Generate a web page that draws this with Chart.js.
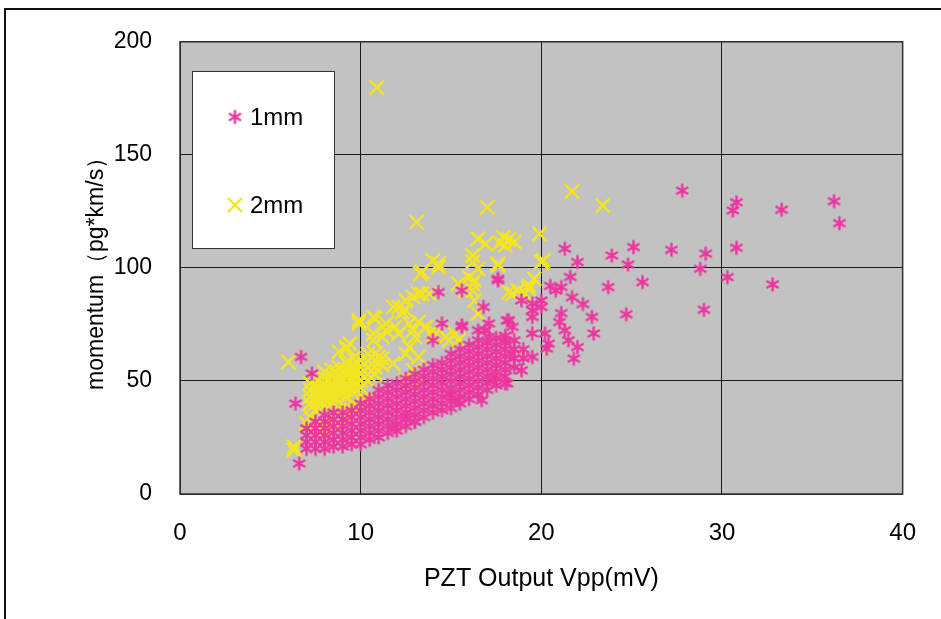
<!DOCTYPE html>
<html>
<head>
<meta charset="utf-8">
<script src="https://cdn.jsdelivr.net/npm/chart.js@4"></script>
<style>
  html, body { margin: 0; padding: 0; background: #fff; }
  canvas { display: block; }
</style>
</head>
<body>
<canvas id="plot" width="941" height="619"></canvas>
<script>
// axis ticks
const xTicks = [0, 10, 20, 30, 40];
const yTicks = [0, 50, 100, 150, 200];

// 1mm series (pink asterisks), [Vpp mV, momentum]
const mm1Sparse = [
  [27.8,134.2],[30.8,129],[30.6,125.4],[33.3,125.7],[36.2,129.5],[36.5,119.8],
  [21.3,108.5],[23.9,105.5],[25.1,109.2],[27.2,108],[29.1,106.3],[30.8,108.9],
  [24.8,101.5],[28.8,99.6],[30.3,95.9],[32.8,92.7],[22.0,102.6],[23.7,91.5],[25.6,93.7],
  [24.7,79.5],[29.0,81.5],[22.8,78.3],[22.9,71],[17.6,95.2],[21.1,91.5],[21.7,87],[21.1,80],
  [20.2,71],[21.3,72.4],[21.5,68],[20.3,64.3],[22.0,65],[19.5,84.2],[19.5,71],[18.2,76.8],
  [16.9,72.4],[18.0,68],[16.8,82.7],[18.3,62],[18.9,85.6],[21.8,59.9],[20.4,66.5],
  [14.3,89.3],[15.6,90],[17.6,94.5],[19.5,81.2],[18.4,73.9],[18.9,54.7],[18.0,48.9],[16.7,41.5],
  [15.4,41.5],[13.0,31.9],[11.9,29.7],[6.7,60.6],[6.6,13.5],[6.4,40],[7.3,53.3],[20.0,85.6],
  [20.8,90],[20.0,82.7],[19.5,78.3],[18.1,76.8],[17.1,75.4],[15.6,74.6],[14.5,75.4],[14.0,68],
  [19.5,60.6],[18.1,48.9],[17.4,51.8],[14.9,44.4],[12.5,34.1],[16.5,72.4],[17.1,69.5],[15.6,73.9],
  [21.6,96],[20.5,92],[22.3,84],[21.0,76]
];
const mm1Cloud = [
  [7.0,20],[7.0,23],[7.0,26],[7.0,29],
  [7.5,20],[7.5,23],[7.5,26],[7.5,29],[7.5,32],
  [8.0,20],[8.0,23],[8.0,26],[8.0,29],[8.0,32],[8.0,35],
  [8.5,21],[8.5,24],[8.5,27],[8.5,30],[8.5,33],[8.5,36],
  [9.0,21],[9.0,24],[9.0,27],[9.0,30],[9.0,33],[9.0,36],
  [9.5,22],[9.5,25],[9.5,28],[9.5,31],[9.5,34],[9.5,37],
  [10.0,22],[10.0,25],[10.0,28],[10.0,31],[10.0,34],[10.0,37],[10.0,40],
  [10.5,24],[10.5,27],[10.5,30],[10.5,33],[10.5,36],[10.5,39],[10.5,42],
  [11.0,25],[11.0,28],[11.0,31],[11.0,34],[11.0,37],[11.0,40],[11.0,43],[11.0,46],
  [11.5,27],[11.5,30],[11.5,33],[11.5,36],[11.5,39],[11.5,42],[11.5,45],[11.5,48],
  [12.0,28],[12.0,31],[12.0,34],[12.0,37],[12.0,40],[12.0,43],[12.0,46],[12.0,49],
  [12.5,30],[12.5,33],[12.5,36],[12.5,39],[12.5,42],[12.5,45],[12.5,48],[12.5,51],
  [13.0,32],[13.0,35],[13.0,38],[13.0,41],[13.0,44],[13.0,47],[13.0,50],[13.0,53],
  [13.5,34],[13.5,37],[13.5,40],[13.5,43],[13.5,46],[13.5,49],[13.5,52],[13.5,55],
  [14.0,36],[14.0,39],[14.0,42],[14.0,45],[14.0,48],[14.0,51],[14.0,54],[14.0,57],
  [14.5,37],[14.5,40],[14.5,43],[14.5,46],[14.5,49],[14.5,52],[14.5,55],[14.5,58],
  [15.0,38],[15.0,41],[15.0,44],[15.0,47],[15.0,50],[15.0,53],[15.0,56],[15.0,59],[15.0,62],
  [15.5,40],[15.5,43],[15.5,46],[15.5,49],[15.5,52],[15.5,55],[15.5,58],[15.5,61],[15.5,64],
  [16.0,42],[16.0,45],[16.0,48],[16.0,51],[16.0,54],[16.0,57],[16.0,60],[16.0,63],[16.0,66],
  [16.5,44],[16.5,47],[16.5,50],[16.5,53],[16.5,56],[16.5,59],[16.5,62],[16.5,65],[16.5,68],
  [17.0,46],[17.0,49],[17.0,52],[17.0,55],[17.0,58],[17.0,61],[17.0,64],[17.0,67],
  [17.5,48],[17.5,51],[17.5,54],[17.5,57],[17.5,60],[17.5,63],[17.5,66],[17.5,69],
  [18.0,52],[18.0,55],[18.0,58],[18.0,61],[18.0,64],[18.0,67],[18.0,70],
  [18.5,56],[18.5,60],[18.5,64],[18.5,68],
  [19.0,60],[19.0,64]
];

// 2mm series (yellow crosses)
const mm2Sparse = [
  [10.9,179.8],[21.7,133.9],[23.4,127.6],[17.0,126.8],[13.1,120.2],[19.9,115.1],
  [16.5,112.9],[16.9,110.7],[17.9,113.6],[18.2,112.5],[18.5,111.5],[17.7,111],[18.0,110],
  [16.2,105.5],[14.0,103.3],[14.3,100.4],[13.3,97.4],[17.6,101.1],[20.1,103.3],[19.6,95.2],
  [16.2,102.6],[16.5,99.6],[15.4,93],[16.0,95.9],[16.3,94.5],[16.2,90],[16.3,85.6],
  [18.2,89.3],[18.7,90],[19.3,92.3],[19.1,88.6],[18.4,88.6],[16.5,79.8],[12.9,87.1],
  [13.4,88.6],[12.1,82.7],[12.3,80.5],[9.9,76.8],[10.7,78.3],[11.4,75.4],[11.9,73.9],
  [12.7,75.4],[13.2,76.1],[9.4,66.5],[10.7,71],[11.2,69.5],[12.1,71],[13.0,69.5],
  [14.0,69.5],[14.7,69.5],[15.2,71],[15.8,90],[13.2,88.6],[12.5,81.2],[13.6,73.9],
  [14.9,68],[15.4,68],[12.7,65],[13.2,60.6],[12.5,50.3],[6.0,58.4],[9.2,64.3],[8.8,63],
  [6.3,20.9],[7.2,34.1],[7.9,28.3],[8.6,29.7],[9.2,34.1],[10.3,41.5],[8.8,37.1],[9.7,37.1],
  [9.9,75.4],[10.8,77.6],[13.4,98.2],[14.3,101.8],[17.6,101.8],[19.3,90.8],[20.0,102.6],
  [16.2,93],[11.8,82.7],[12.5,85.6],[13.8,88.6],[9.2,65],[10.7,68],[11.4,72.4],[12.9,72.4],
  [14.0,72.4],[11.0,60.6],[12.5,62],[11.8,57.7],[12.9,54.7],[13.4,50.3],[10.3,40],
  [7.7,31.2],[8.4,32.7],[9.2,35.6],[8.1,28.3],[9.6,40.2],[7.0,31.2],[7.3,38.5],[6.3,19.4]
];
const mm2Cloud = [
  [7.2,40],[7.2,43],[7.2,46],[7.2,49],
  [7.6,38],[7.6,41],[7.6,44],[7.6,47],[7.6,50],
  [8.0,39],[8.0,42],[8.0,45],[8.0,48],[8.0,51],[8.0,54],
  [8.4,40],[8.4,43],[8.4,46],[8.4,49],[8.4,52],[8.4,55],
  [8.8,41],[8.8,44],[8.8,47],[8.8,50],[8.8,53],[8.8,56],
  [9.2,43],[9.2,46],[9.2,49],[9.2,52],[9.2,55],[9.2,58],
  [9.6,45],[9.6,48],[9.6,51],[9.6,54],[9.6,57],[9.6,60],
  [10.0,47],[10.0,50],[10.0,53],[10.0,56],[10.0,59],
  [10.4,50],[10.4,53],[10.4,56],[10.4,59],[10.4,62],
  [10.8,53],[10.8,56],[10.8,59],[10.8,62],
  [11.2,57],[11.2,60]
];

const PINK = '#ec369f';
const YELLOW = '#f3e520';

// six-armed asterisk marker for the 1mm series
function asterisk(size, color) {
  const c = document.createElement('canvas');
  c.width = size; c.height = size;
  const g = c.getContext('2d');
  const m = size / 2, r = size / 2 - 1.5;
  g.strokeStyle = color;
  g.lineWidth = 2.4;
  g.beginPath();
  [90, 30, 150].forEach(function(deg) {
    const a = deg * Math.PI / 180;
    g.moveTo(m - r * Math.cos(a), m - r * Math.sin(a));
    g.lineTo(m + r * Math.cos(a), m + r * Math.sin(a));
  });
  g.stroke();
  return c;
}
const starImg = asterisk(17, PINK);

const toXY = arr => arr.map(p => ({ x: p[0], y: p[1] }));

const paper = {
  id: 'paper',
  beforeDraw(chart) {
    const { ctx, chartArea: a } = chart;
    ctx.save();
    ctx.fillStyle = '#fff';
    ctx.fillRect(0, 0, chart.width, chart.height);
    ctx.strokeStyle = '#111';
    ctx.lineWidth = 2;
    ctx.strokeRect(5, 9, chart.width + 10, chart.height + 10);
    ctx.fillStyle = '#c2c2c2';
    ctx.fillRect(a.left, a.top, a.width, a.height);
    ctx.restore();
  },
  afterDraw(chart) {
    const { ctx, chartArea: a } = chart;
    ctx.save();
    ctx.strokeStyle = '#333';
    ctx.lineWidth = 1.5;
    ctx.strokeRect(a.left, a.top, a.width, a.height);
    // legend box
    ctx.fillStyle = '#fff';
    ctx.fillRect(192, 71, 142, 177);
    ctx.strokeStyle = '#333';
    ctx.lineWidth = 1;
    ctx.strokeRect(192.5, 71.5, 142, 177);
    ctx.drawImage(starImg, 235 - 8.5, 117 - 8.5);
    ctx.strokeStyle = YELLOW;
    ctx.lineWidth = 2.4;
    ctx.beginPath();
    ctx.moveTo(228, 198); ctx.lineTo(242, 212);
    ctx.moveTo(242, 198); ctx.lineTo(228, 212);
    ctx.stroke();
    ctx.fillStyle = '#000';
    ctx.font = '24px "Liberation Sans", Arial, sans-serif';
    ctx.textBaseline = 'middle';
    ctx.fillText('1mm', 250, 118);
    ctx.fillText('2mm', 250, 206);
    ctx.restore();
  }
};

new Chart(document.getElementById('plot'), {
  type: 'scatter',
  data: {
    datasets: [
      {
        label: '1mm',
        data: toXY(mm1Cloud.concat(mm1Sparse)),
        pointStyle: starImg
      },
      {
        label: '2mm',
        data: toXY(mm2Cloud.concat(mm2Sparse)),
        pointStyle: 'crossRot',
        pointRadius: 10,
        borderColor: YELLOW,
        borderWidth: 2.4
      }
    ]
  },
  options: {
    responsive: false,
    animation: false,
    layout: { padding: { top: 41, right: 35, left: 0, bottom: 0 } },
    plugins: { legend: { display: false }, tooltip: { enabled: false } },
    scales: {
      x: {
        type: 'linear', min: 0, max: 40,
        afterBuildTicks: s => { s.ticks = xTicks.map(v => ({ value: v })); },
        afterFit: s => { s.height = 125; },
        grid: { color: '#1a1a1a', lineWidth: 1, drawTicks: false },
        border: { display: false },
        ticks: { color: '#000', padding: 25, font: { family: '"Liberation Sans", Arial, sans-serif', size: 24 } },
        title: {
          display: true, text: 'PZT Output Vpp(mV)', color: '#000',
          font: { family: '"Liberation Sans", Arial, sans-serif', size: 25 },
          padding: { top: 0, bottom: 25 }
        }
      },
      y: {
        type: 'linear', min: 0, max: 200,
        afterBuildTicks: s => { s.ticks = yTicks.map(v => ({ value: v })); },
        afterFit: s => { s.width = 180; },
        grid: { color: '#1a1a1a', lineWidth: 1, drawTicks: false },
        border: { display: false },
        ticks: { color: '#000', padding: 28, font: { family: '"Liberation Sans", Arial, sans-serif', size: 23 } },
        title: {
          display: true, text: 'momentum（pg*km/s）', color: '#000',
          font: { family: '"Liberation Sans", Arial, sans-serif', size: 23 },
          padding: { top: 83, bottom: 0 }
        }
      }
    }
  },
  plugins: [paper]
});
</script>
</body>
</html>
